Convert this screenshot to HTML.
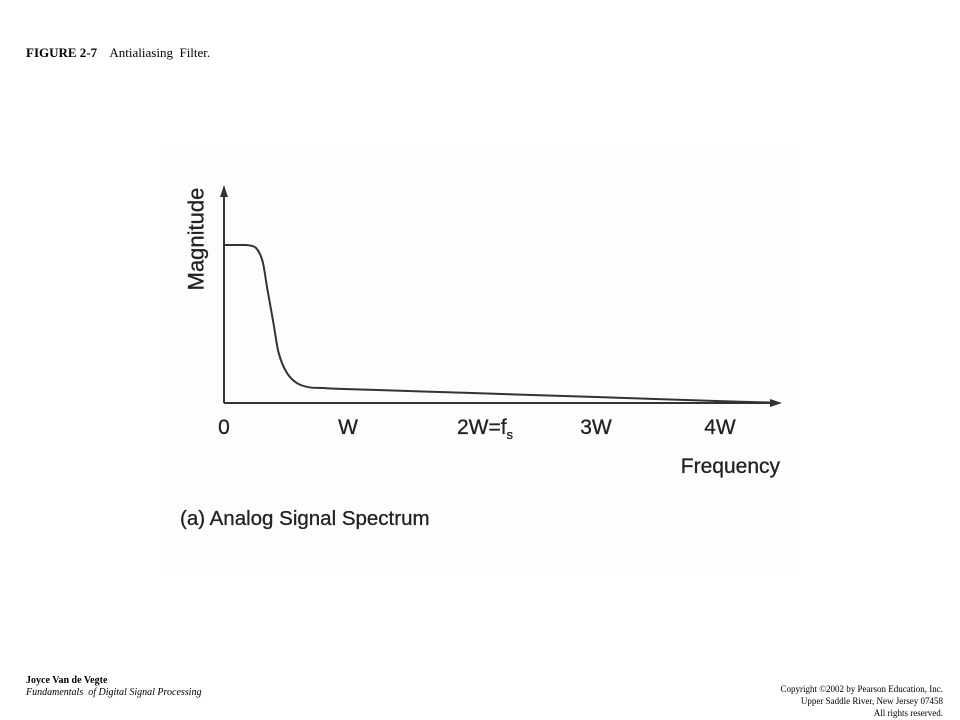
<!DOCTYPE html>
<html><head><meta charset="utf-8"><style>
body{margin:0;width:960px;height:720px;background:#fff;position:relative;overflow:hidden;font-family:"Liberation Serif",serif}
.t{position:absolute;white-space:nowrap}
</style></head><body>
<div class="t" style="left:26px;top:45px;font-size:13px"><b>FIGURE 2-7</b>&nbsp;&nbsp;&nbsp; Antialiasing&nbsp; Filter.</div>
<svg width="960" height="720" style="position:absolute;left:0;top:0">
<rect x="160" y="145" width="640" height="425" fill="#fdfdfd"/>
<g id="axes"></g>
<g id="plot"></g>
<text x="196" y="239" transform="rotate(-90 196 239)" text-anchor="middle" dominant-baseline="central" font-family="Liberation Sans, sans-serif" font-size="22" fill="#222" stroke="#222" stroke-width="0.3">Magnitude</text>
<text x="780" y="473" text-anchor="end" font-family="Liberation Sans, sans-serif" font-size="21" fill="#222" stroke="#222" stroke-width="0.3">Frequency</text>
<text x="180" y="525" font-family="Liberation Sans, sans-serif" font-size="20.5" fill="#222" stroke="#222" stroke-width="0.3">(a) Analog Signal Spectrum</text>
</svg>
<div class="t" style="left:26px;top:675px;font-size:10px;font-weight:bold">Joyce Van de Vegte</div>
<div class="t" style="left:26px;top:687px;font-size:10px;font-style:italic">Fundamentals&nbsp; of Digital Signal Processing</div>
<div class="t" style="right:17px;top:683px;font-size:9px;text-align:right;line-height:12px">Copyright ©2002 by Pearson Education, Inc.<br>Upper Saddle River, New Jersey 07458<br>All rights reserved.</div>
<script>
const tickValues=[0,1,2,3,4];
const tickLabels=["0","W","2W=f","3W","4W"];
const freq=[0,0.15,0.2,0.26,0.31,0.35,0.4,0.44,0.5,0.58,0.68,0.8,1,2,3,4,4.4];
const mag=[1,1,0.998,0.98,0.9,0.72,0.5,0.32,0.2,0.13,0.1,0.095,0.088,0.063,0.038,0.012,0.003];
const NS="http://www.w3.org/2000/svg";
const X0=224,XS=124,Y0=403,YS=158;
const xs=v=>X0+v*XS, ys=v=>Y0-v*YS;
const axes=document.getElementById('axes'),plot=document.getElementById('plot');
function mk(t,a,p){const e=document.createElementNS(NS,t);for(const k in a)e.setAttribute(k,a[k]);p.appendChild(e);return e;}
const ya=mk('line',{x1:X0,y1:Y0,x2:X0,y2:195,stroke:'#333','stroke-width':2},axes);


const yh=mk('polygon',{points:`${X0-4},197 ${X0+4},197 ${X0},185`,fill:'#333'},axes);


const xa=mk('line',{x1:X0,y1:Y0,x2:772,y2:Y0,stroke:'#333','stroke-width':2},axes);


const xh=mk('polygon',{points:`770,${Y0-4} 770,${Y0+4} 782,${Y0}`,fill:'#333'},axes);


tickValues.forEach((v,i)=>{
  const t=mk('text',{x:xs(v)+(i==2?13:0),y:434,'text-anchor':'middle','font-family':'Liberation Sans, sans-serif','font-size':21,fill:'#222',stroke:'#222','stroke-width':0.3},axes);
  t.textContent=tickLabels[i];
  if(i==2){const s=mk('tspan',{'font-size':13,dy:5},t);s.textContent='s';}
  
  
});
const P=freq.map((f,i)=>[xs(f),ys(mag[i])]);
let d=`M${P[0][0]},${P[0][1]}`;
for(let i=0;i<P.length-1;i++){
  const p0=P[Math.max(i-1,0)],p1=P[i],p2=P[i+1],p3=P[Math.min(i+2,P.length-1)];
  const c1=[p1[0]+(p2[0]-p0[0])/6,p1[1]+(p2[1]-p0[1])/6];
  const c2=[p2[0]-(p3[0]-p1[0])/6,p2[1]-(p3[1]-p1[1])/6];
  d+=` C${c1[0]},${c1[1]} ${c2[0]},${c2[1]} ${p2[0]},${p2[1]}`;
}
const line=mk('path',{d:d,fill:'none',stroke:'#333','stroke-width':2},plot);


</script>
</body></html>
